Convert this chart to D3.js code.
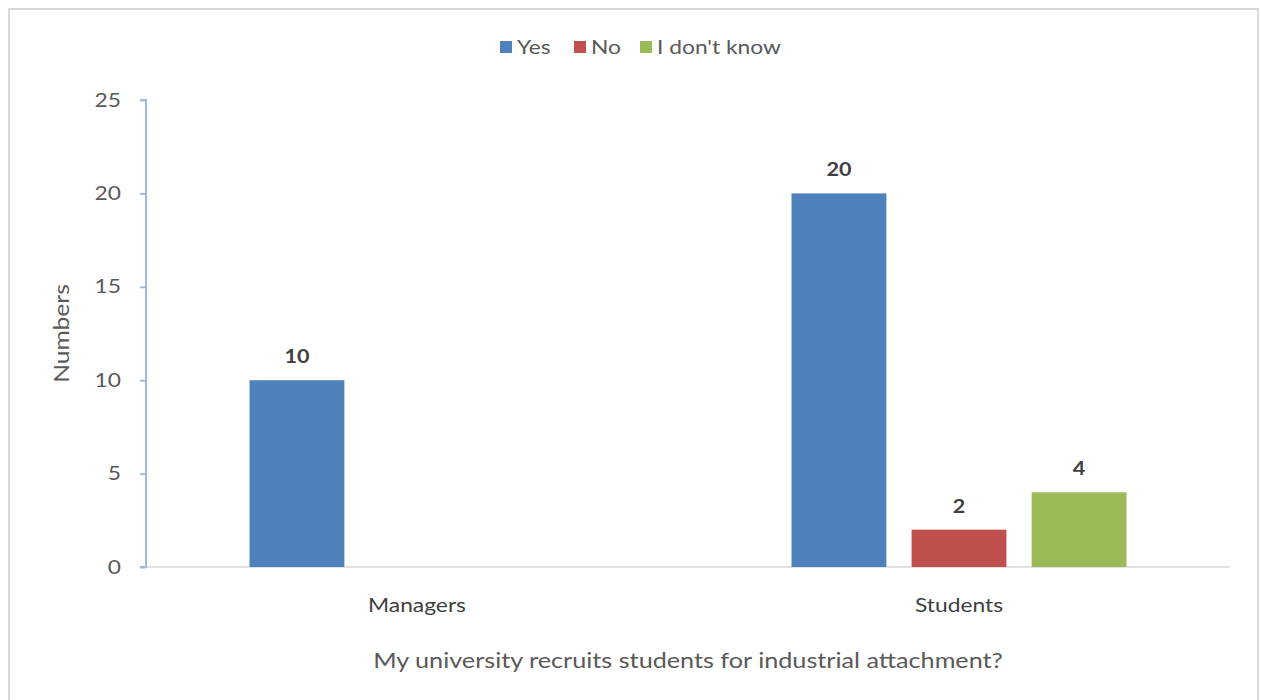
<!DOCTYPE html>
<html>
<head>
<meta charset="utf-8">
<script src="https://cdn.jsdelivr.net/npm/d3@7"></script>
<style>
  html, body { margin: 0; padding: 0; background: #fff; }
  svg { display: block; font-family: Lato, "Open Sans", sans-serif; }
</style>
</head>
<body>
<svg id="chart" width="1261" height="700"></svg>
<script>
// Survey responses by respondent group
const categories = ["Managers", "Students"];
const seriesNames = ["Yes", "No", "I don't know"];
const yesValues = [10, 20];
const noValues = [null, 2];
const dontKnowValues = [null, 4];
const yTicks = [0, 5, 10, 15, 20, 25];
const colors = ["#4f81bd", "#c0504d", "#9bbb59"];

const seriesValues = [yesValues, noValues, dontKnowValues];

// Horizontal stretch applied to all text, giving a wider face
const SX = 1.2;

const svg = d3.select("#chart");

// Outer frame
svg.append("rect")
  .attr("x", 9).attr("y", 9)
  .attr("width", 1249).attr("height", 700)
  .attr("fill", "#fff")
  .attr("stroke", "#d9d9d9")
  .attr("stroke-width", 2);

const plot = { left: 146, right: 1230, top: 100, bottom: 567 };

const x0 = d3.scaleBand()
  .domain(categories)
  .range([plot.left, plot.right])
  .paddingInner(0.382)
  .paddingOuter(0.191);

const x1 = d3.scaleBand()
  .domain(seriesNames)
  .range([0, x0.bandwidth()])
  .paddingInner(0.21);

const y = d3.scaleLinear()
  .domain([0, 25])
  .range([plot.bottom, plot.top]);

// x axis baseline
svg.append("line")
  .attr("x1", plot.left).attr("x2", plot.right)
  .attr("y1", y(0)).attr("y2", y(0))
  .attr("stroke", "#d9d9d9").attr("stroke-width", 1.5);

// y axis
const yAxis = d3.axisLeft(y)
  .tickValues(yTicks)
  .tickSize(6)
  .tickPadding(18);

const yg = svg.append("g")
  .attr("transform", `translate(${plot.left},0)`)
  .call(yAxis);
yg.select(".domain").attr("stroke", "#9dbbe0").attr("stroke-width", 2)
  .attr("d", `M-6,${plot.top}H0V${plot.bottom}H-6`);
yg.selectAll(".tick line").attr("stroke", "#9dbbe0").attr("stroke-width", 2);
yg.selectAll(".tick text")
  .attr("x", 0)
  .attr("transform", `translate(-25,0) scale(${SX},1)`)
  .attr("fill", "#595959")
  .style("font-size", "19px")
  .style("font-family", "Lato, sans-serif");

// Bars
const groups = svg.selectAll("g.series")
  .data(seriesNames.map((name, i) => ({ name, color: colors[i], values: seriesValues[i] })))
  .join("g")
  .attr("class", "series")
  .attr("fill", d => d.color);

const points = d => categories
  .map((c, j) => ({ cat: c, name: d.name, value: d.values[j] }))
  .filter(v => v.value != null);

groups.selectAll("rect")
  .data(points)
  .join("rect")
  .attr("x", d => x0(d.cat) + x1(d.name))
  .attr("y", d => y(d.value))
  .attr("width", x1.bandwidth())
  .attr("height", d => y(0) - y(d.value));

// Value labels
groups.selectAll("text")
  .data(points)
  .join("text")
  .attr("transform", d =>
    `translate(${x0(d.cat) + x1(d.name) + x1.bandwidth() / 2},${y(d.value) - 17}) scale(${SX},1)`)
  .attr("text-anchor", "middle")
  .attr("fill", "#404040")
  .style("font-size", "18px")
  .style("font-weight", "bold")
  .text(d => d.value);

// Category labels
svg.selectAll("text.cat")
  .data(categories)
  .join("text")
  .attr("class", "cat")
  .attr("transform", d => `translate(${x0(d) + x0.bandwidth() / 2},612) scale(${SX},1)`)
  .attr("text-anchor", "middle")
  .attr("fill", "#404040")
  .style("font-size", "19px")
  .text(d => d);

// Axis titles
svg.append("text")
  .attr("transform", `translate(${(plot.left + plot.right) / 2},668) scale(${SX},1)`)
  .attr("text-anchor", "middle")
  .attr("fill", "#595959")
  .style("font-size", "21px")
  .text("My university recruits students for industrial attachment?");

svg.append("text")
  .attr("transform", `translate(69,${(plot.top + plot.bottom) / 2}) rotate(-90) scale(${SX},1)`)
  .attr("text-anchor", "middle")
  .attr("fill", "#595959")
  .style("font-size", "20.5px")
  .text("Numbers");

// Legend
const legendX = [500, 574, 640];
const legend = svg.selectAll("g.legend")
  .data(seriesNames)
  .join("g")
  .attr("class", "legend")
  .attr("transform", (d, i) => `translate(${legendX[i]},41)`);
legend.append("rect")
  .attr("width", 12).attr("height", 12)
  .attr("fill", (d, i) => colors[i]);
legend.append("text")
  .attr("transform", `translate(17,13) scale(${SX},1)`)
  .attr("fill", "#595959")
  .style("font-size", "19px")
  .text(d => d);
</script>
</body>
</html>
